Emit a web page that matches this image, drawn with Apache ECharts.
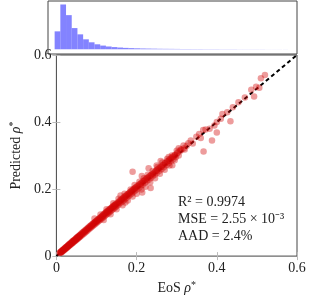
<!DOCTYPE html>
<html><head><meta charset="utf-8">
<script src="https://cdn.jsdelivr.net/npm/echarts@6/dist/echarts.min.js"></script>
<style>html,body{margin:0;padding:0;background:#fff}#c{width:310px;height:300px}</style>
</head><body><div id="c"></div>
<script>
// ---- data ----
var axisTicks = [0, 0.2, 0.4, 0.6];
// histogram of EoS rho* (top marginal)
var histFirstEdge = 0.016;
var histBinWidth = 0.01373;
var histCounts = [360, 900, 686, 426, 300, 200, 140, 100, 74, 56, 44, 35, 28, 23, 19, 16, 14, 12, 10, 9, 8, 7, 6, 6, 5, 5, 4, 4, 4, 3, 3, 3, 2, 2, 2, 2, 2, 1, 1, 1, 1];
// scatter: EoS rho* vs predicted rho*
var eosRho = [
0.008,0.010,0.011,0.012,0.013,0.014,0.015,0.016,0.017,0.018,0.019,0.020,0.021,0.022,0.023,0.024,0.025,0.026,0.027,0.028,0.029,0.030,0.031,0.032,0.033,0.034,0.035,0.036,0.037,0.038,0.039,0.040,0.041,0.042,0.043,0.044,0.045,0.046,0.047,0.048,0.049,0.050,0.051,0.052,0.053,0.054,0.055,0.056,0.057,0.058,0.059,0.060,
0.062,0.063,0.065,0.066,0.068,0.069,0.071,0.072,0.074,0.075,0.077,0.078,0.080,0.081,0.083,0.084,0.086,0.087,0.089,0.090,0.092,0.093,0.095,0.096,0.098,0.099,0.101,0.102,0.104,0.105,0.107,0.108,0.110,0.111,0.113,0.114,0.116,0.117,0.119,0.120,0.122,0.123,0.125,0.126,0.128,0.129,0.131,0.132,0.134,0.135,0.137,0.138,0.140,0.141,0.143,0.144,0.146,0.147,0.149,0.150,
0.152,0.154,0.156,0.158,0.160,0.162,0.164,0.166,0.168,0.170,0.172,0.174,0.176,0.178,0.180,0.182,0.184,0.186,0.188,0.190,0.192,0.194,0.196,0.198,0.200,0.203,0.205,0.208,0.210,0.213,0.215,0.218,0.220,0.223,0.225,0.228,0.230,0.233,0.235,0.238,0.240,0.243,0.245,0.248,0.250,0.253,0.256,0.259,0.262,0.265,0.268,0.271,0.274,0.277,0.280,0.283,0.286,0.289,0.292,0.295,0.298,0.301,0.305,0.308,
0.0095,0.0115,0.0135,0.0155,0.0175,0.0195,0.0215,0.0235,0.0255,0.0275,0.0295,0.0315,0.0335,0.0355,0.0375,0.0395,0.0415,0.0435,0.0455,0.0475,0.0495,0.0515,0.0535,0.0555,0.0575,0.0595,
0.0615,0.0645,0.0675,0.0705,0.0735,0.0765,0.0795,0.0825,0.0855,0.0885,0.0915,0.0945,0.0975,0.1005,0.1035,0.1065,0.1095,0.1125,0.1155,0.1185,0.1215,0.1245,0.1275,0.1305,0.1335,0.1365,0.1395,0.1425,0.1455,0.1485,
0.153,0.157,0.161,0.165,0.169,0.173,0.177,0.181,0.185,0.189,0.193,0.197,0.201,0.206,0.211,0.216,0.221,0.226,0.231,0.236,0.241,0.246,0.251,0.256,0.261,0.266,0.271,0.276,0.281,0.286,0.291,0.296,0.302,0.312,0.318,0.325,
0.095,0.110,0.118,0.125,0.135,0.142,0.150,0.155,0.165,0.170,0.178,0.185,0.190,0.195,0.200,0.207,0.212,0.218,0.222,0.228,0.234,0.240,0.246,0.252,0.258,0.264,0.270,0.276,0.282,0.288,0.295,0.300,0.190,0.213,0.235,0.214,0.172,0.160,0.230,0.250,0.260,0.280,
0.289,0.305,0.317,0.329,0.349,0.366,0.372,0.367,0.388,0.400,0.382,0.394,0.400,0.410,0.414,0.426,0.434,0.440,0.454,0.470,0.486,0.493,0.498,0.506,0.510,0.520,0.310,0.320,0.335,0.340,0.356,0.360
];
var predRho = [
0.009,0.012,0.010,0.014,0.012,0.016,0.014,0.018,0.016,0.020,0.018,0.023,0.020,0.024,0.022,0.027,0.024,0.028,0.026,0.031,0.028,0.033,0.030,0.035,0.032,0.037,0.034,0.039,0.036,0.041,0.038,0.044,0.040,0.045,0.042,0.048,0.044,0.049,0.046,0.052,0.048,0.054,0.050,0.056,0.052,0.058,0.054,0.060,0.056,0.062,0.058,0.064,
0.061,0.068,0.064,0.071,0.067,0.074,0.070,0.077,0.073,0.080,0.076,0.083,0.079,0.087,0.082,0.090,0.085,0.093,0.088,0.096,0.091,0.099,0.094,0.102,0.097,0.105,0.100,0.108,0.103,0.111,0.106,0.114,0.109,0.117,0.112,0.120,0.115,0.124,0.118,0.127,0.121,0.130,0.124,0.133,0.127,0.136,0.130,0.139,0.133,0.142,0.136,0.145,0.139,0.148,0.142,0.151,0.145,0.154,0.148,0.157,
0.151,0.161,0.155,0.165,0.159,0.169,0.163,0.173,0.167,0.177,0.171,0.181,0.175,0.185,0.179,0.189,0.183,0.193,0.187,0.197,0.191,0.201,0.195,0.205,0.199,0.209,0.203,0.214,0.208,0.219,0.213,0.224,0.218,0.229,0.223,0.234,0.228,0.239,0.233,0.244,0.238,0.249,0.243,0.254,0.248,0.259,0.254,0.265,0.259,0.271,0.265,0.277,0.271,0.283,0.277,0.289,0.283,0.295,0.290,0.301,0.296,0.306,0.300,0.313,
0.0105,0.0125,0.0150,0.0165,0.0190,0.0205,0.0230,0.0245,0.0270,0.0285,0.0310,0.0325,0.0350,0.0365,0.0390,0.0405,0.0435,0.0450,0.0475,0.0490,0.0520,0.0535,0.0560,0.0575,0.0600,0.0615,
0.0650,0.0670,0.0715,0.0735,0.0770,0.0800,0.0835,0.0855,0.0900,0.0915,0.0955,0.0985,0.1020,0.1045,0.1080,0.1105,0.1140,0.1170,0.1205,0.1230,0.1265,0.1300,0.1330,0.1355,0.1395,0.1420,0.1455,0.1490,0.1515,0.1540,
0.158,0.162,0.167,0.170,0.175,0.179,0.183,0.187,0.192,0.195,0.200,0.204,0.208,0.213,0.217,0.223,0.227,0.233,0.237,0.242,0.246,0.252,0.257,0.262,0.266,0.272,0.277,0.282,0.286,0.292,0.297,0.302,0.309,0.317,0.322,0.329,
0.112,0.124,0.108,0.140,0.125,0.158,0.140,0.171,0.152,0.186,0.166,0.199,0.178,0.212,0.186,0.222,0.199,0.232,0.207,0.243,0.220,0.254,0.232,0.266,0.246,0.279,0.258,0.290,0.270,0.300,0.286,0.314,0.252,0.239,0.203,0.190,0.160,0.181,0.262,0.270,0.284,0.296,
0.271,0.322,0.330,0.337,0.356,0.376,0.378,0.312,0.345,0.369,0.380,0.390,0.400,0.410,0.424,0.429,0.402,0.444,0.459,0.473,0.496,0.476,0.505,0.502,0.531,0.540,0.318,0.318,0.345,0.336,0.364,0.352
];
var diagLine = [0, 0.6];
var statLines = ['R\u00b2 = 0.9974', 'MSE = 2.55 \u00d7 10\u207b\u00b3', 'AAD = 2.4%'];

// ---- build ----
var FONT = 'Liberation Serif';
var scatterData = eosRho.map(function (x, i) { return [x, predRho[i]]; });
var histData = histCounts.map(function (c, i) {
  return [histFirstEdge + i * histBinWidth, histFirstEdge + (i + 1) * histBinWidth, c];
});
var richName = {
  n: { fontFamily: FONT, fontSize: 14, color: '#222' },
  i: { fontFamily: FONT, fontSize: 14, fontStyle: 'italic', color: '#222' },
  s: { fontFamily: FONT, fontSize: 10, color: '#222', padding: [0, 0, 6, 0] }
};
function mainAxis(pos, showLabel, name) {
  return {
    type: 'value', position: pos, min: 0, max: 0.6, interval: 0.2,
    gridIndex: 0,
    axisLine: { show: false },
    axisTick: { show: true, inside: true, length: 4, lineStyle: { color: '#bbb' } },
    splitLine: { show: false },
    axisLabel: { show: showLabel, fontFamily: FONT, fontSize: 14, color: '#222', margin: 5 },
    name: name || '', nameLocation: 'middle',
    nameTextStyle: { fontFamily: FONT, fontSize: 14, rich: richName }
  };
}
var xb = mainAxis('bottom', true, '{n|EoS }{i|\u03c1}{s|*}'); xb.nameGap = 21;
var xt = mainAxis('top', false);
var yl = mainAxis('left', true, '{n|Predicted }{i|\u03c1}{s|*}'); yl.nameGap = 30;
var yr = mainAxis('right', false);

var chart = echarts.init(document.getElementById('c'), null, { renderer: 'canvas' });
chart.setOption({
  animation: false,
  backgroundColor: '#fff',
  grid: [
    { left: 48, right: 13, top: 55, bottom: 40, show: true, borderColor: '#444', borderWidth: 1, backgroundColor: 'transparent' },
    { left: 48, right: 13, top: 1, height: 53, show: true, borderColor: '#444', borderWidth: 1, backgroundColor: 'transparent' }
  ],
  xAxis: [xb, xt, {
    type: 'value', gridIndex: 1, min: 0, max: 0.6, show: false
  }],
  yAxis: [yl, yr, {
    type: 'value', gridIndex: 1, min: -95, max: 970, show: false
  }],
  series: [
    {
      type: 'custom', xAxisIndex: 2, yAxisIndex: 2, data: histData,
      renderItem: function (params, api) {
        var p0 = api.coord([api.value(0), 0]);
        var p1 = api.coord([api.value(1), api.value(2)]);
        return { type: 'rect', shape: { x: p0[0], y: p1[1], width: p1[0] - p0[0], height: p0[1] - p1[1] },
          style: { fill: 'rgba(100,100,255,0.8)' } };
      }
    },
    {
      type: 'scatter', xAxisIndex: 0, yAxisIndex: 0, data: scatterData,
      symbolSize: 6.5,
      itemStyle: { color: 'rgba(210,8,8,0.5)' }
    },
    {
      type: 'line', xAxisIndex: 0, yAxisIndex: 0,
      data: [[diagLine[0], diagLine[0]], [diagLine[1], diagLine[1]]],
      symbol: 'none', lineStyle: { color: '#000', width: 2, type: [4, 3] }, z: 1
    }
  ],
  graphic: [{
    type: 'text', left: 178, top: 194,
    style: { text: statLines.join('\n'), fontFamily: FONT, fontSize: 14, lineHeight: 17, fill: '#222' }
  }]
});
</script></body></html>
